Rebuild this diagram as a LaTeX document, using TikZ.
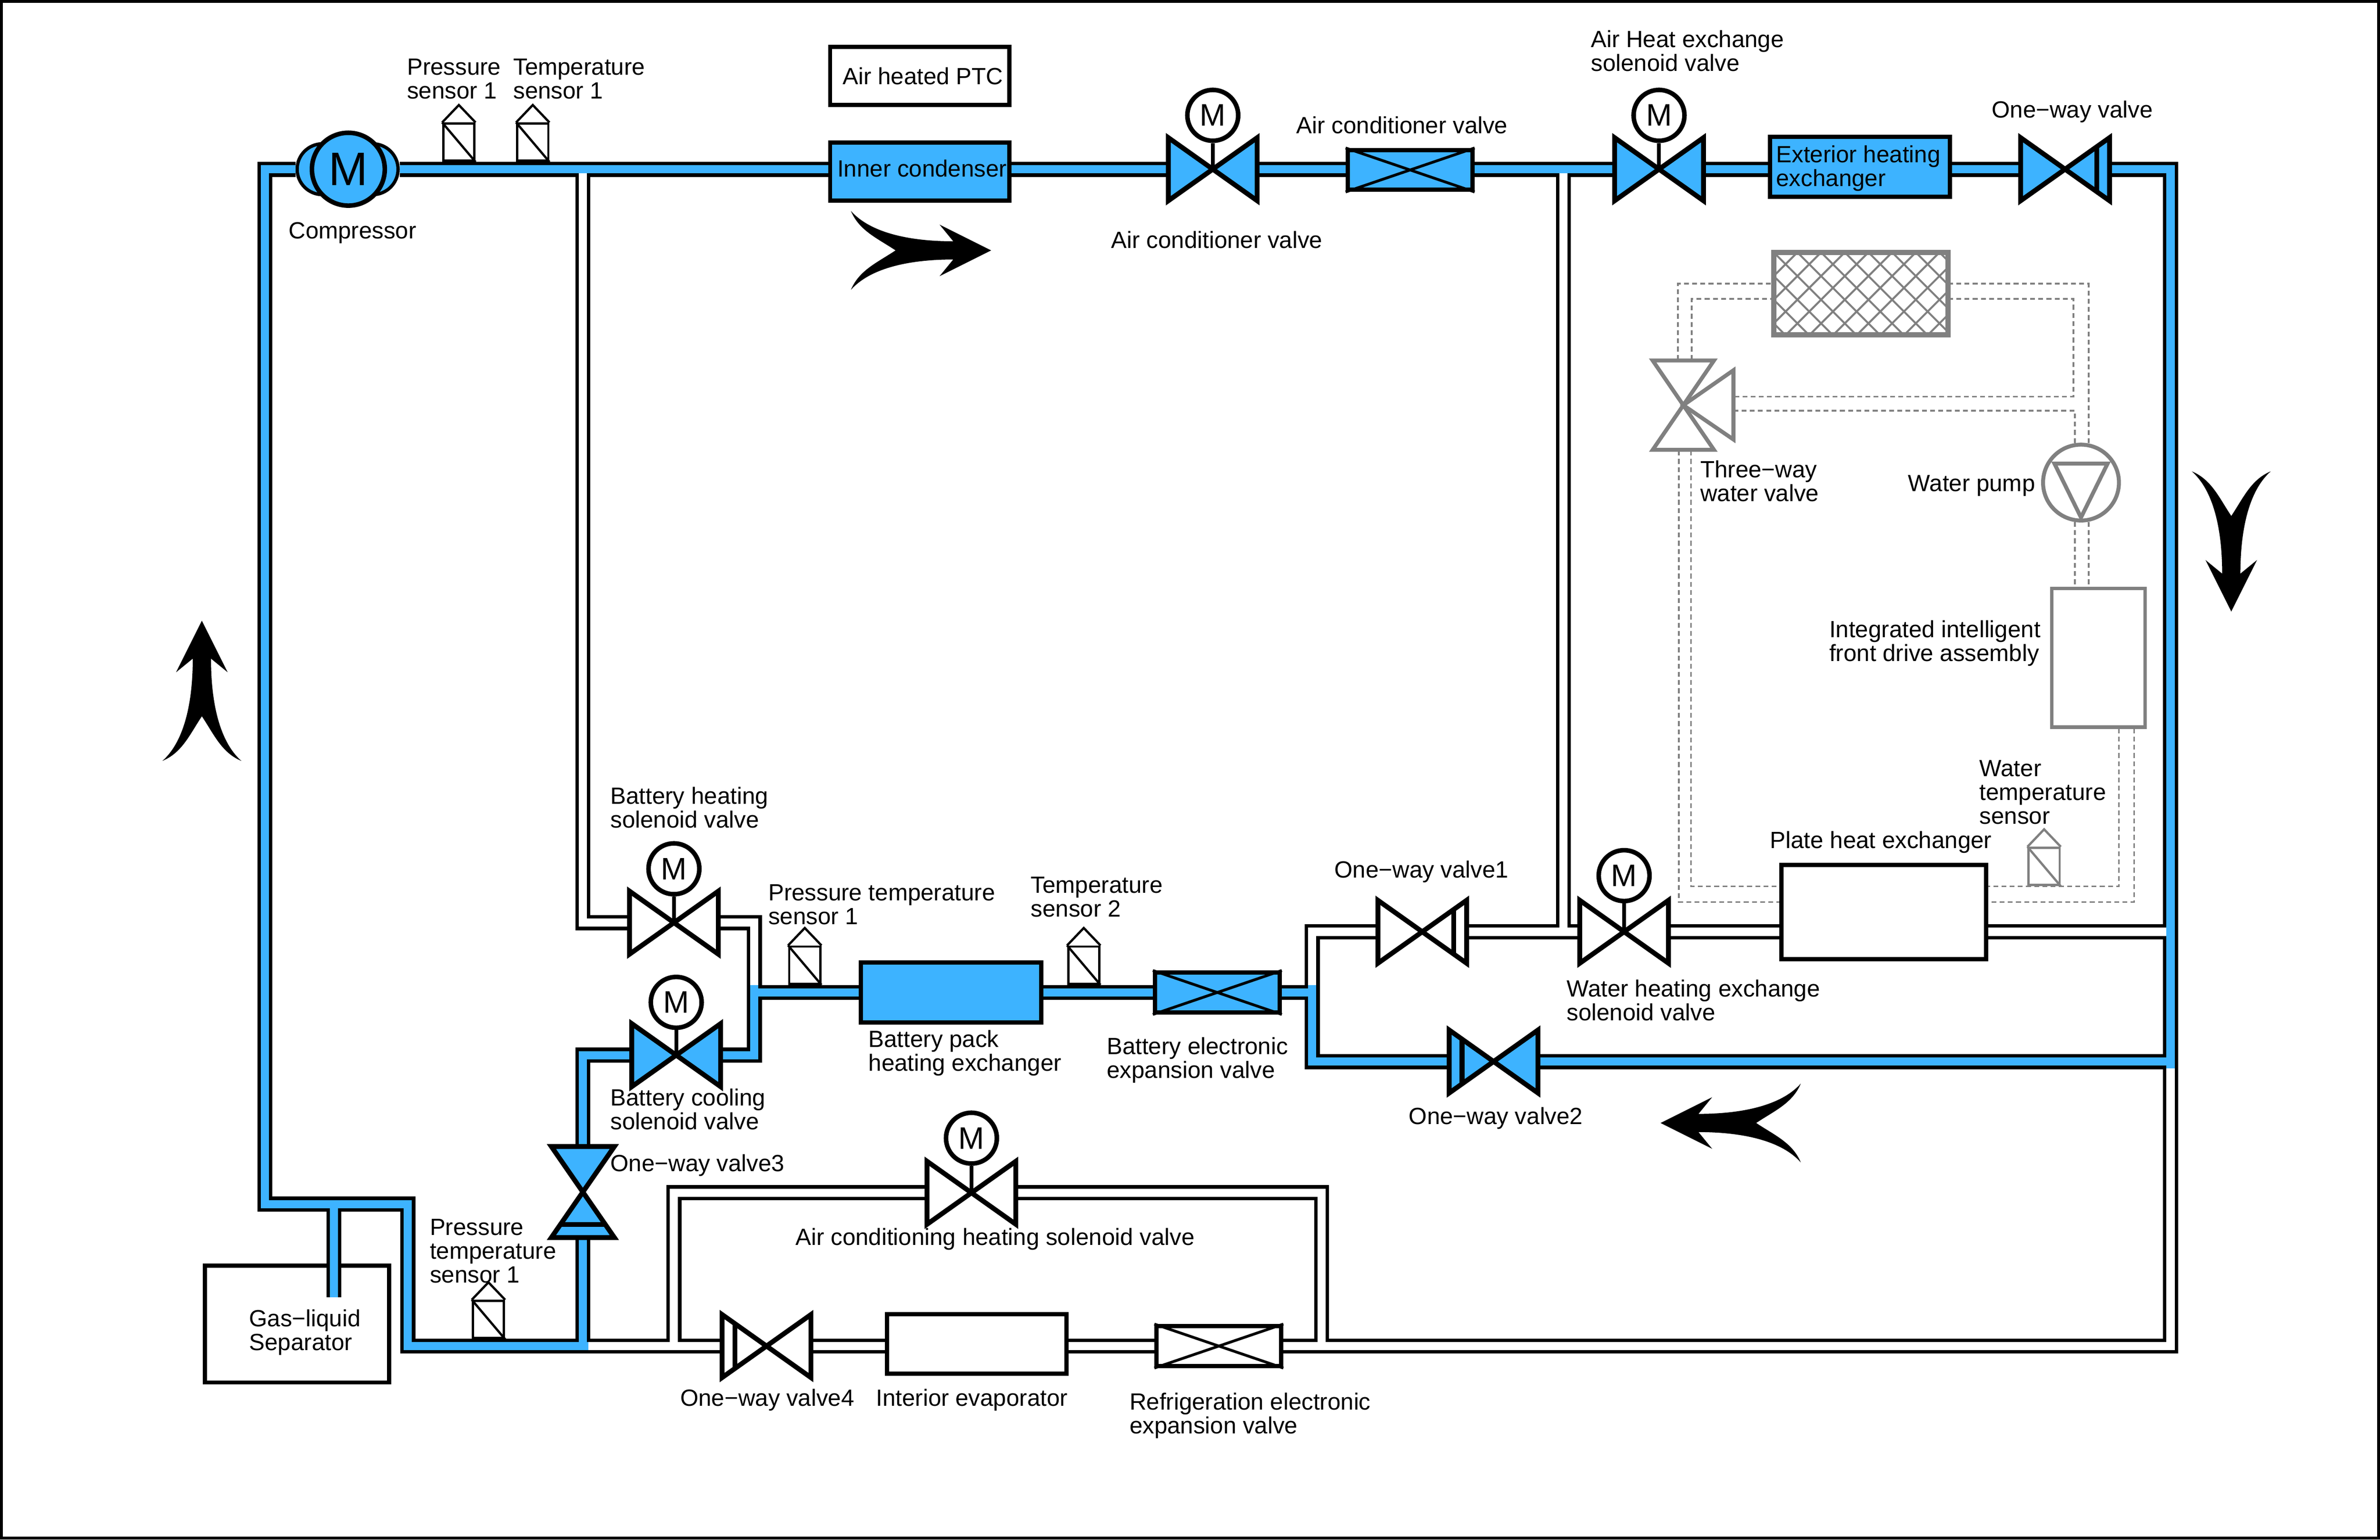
\documentclass[tikz,border=0pt]{standalone}
\usepackage{fontspec}
\setmainfont{Liberation Sans}
\usetikzlibrary{calc}
\definecolor{pipeblue}{HTML}{3DB3FF}
\definecolor{waterloop}{HTML}{808080}
\newcommand{\flatvalve}[2]{\draw[valveline, fill=#2] (#1.north west) -- (#1.south east) -- (#1.north east) -- (#1.south west) -- cycle;}
\newcommand{\tallvalve}[2]{\draw[valveline, fill=#2] (#1.north west) -- (#1.north east) -- (#1.south west) -- (#1.south east) -- cycle;}
\newcommand{\checkbar}[3]{\draw[valveline] ($(#1.center)!0.71!(#1.#2)$) -- ($(#1.center)!0.71!(#1.#3)$);}
\newcommand{\crossbox}[1]{\draw[line width=1.8pt] (#1.north west) -- (#1.south east) (#1.south west) -- (#1.north east);}
\newcommand{\sensortop}[2]{\draw[line width=1.5pt, #2] (#1.north west) -- ($(#1.north)+(0,-11.5)$) -- (#1.north east) (#1.north west) -- (#1.south east);}
\newcommand{\whiteruns}{
    (teeA) -- (heatdown) -- (batheat.west)
    (batheat.east) -- (batjog) -- (batbranch)
    (teeB) -- (teeBlow)
    (oneway1.east) -- (waterheat.west)
    (oneway1.west) -- (leftup) -- (leftblue)
    (waterheat.east) -- (plate.west |- waterheat)
    (plate.east |- waterheat) -- (plateright)
    (blueend) -- (botright) -- (refvalve.east)
    (refvalve.west) -- (evap.east |- refvalve)
    (evap.west |- oneway4) -- (oneway4.east)
    (oneway4.west) -- (lowtee)
    (loopA) -- (loopB) -- (acheat.west)
    (acheat.east) -- (loopC) -- (loopD)
}
\newcommand{\blueruns}{
    (lobeR.east) -- (condenser.west |- comp)
    (condenser.east |- comp) -- (acsole.west)
    (acsole.east) -- (acvalve.west |- comp)
    (acvalve.east |- comp) -- (airheat.west)
    (airheat.east) -- (exterior.west |- comp)
    (exterior.east |- comp) -- (oneway.west)
    (oneway.east) -- (topright) -- (blueend)
    (midright) -- (oneway2.east)
    (oneway2.west) -- (leftlow) -- (leftblue)
    (leftmid) -- (batvalve.east)
    (batvalve.west) -- (batpack.east)
    (batpack.west) -- (batmid)
    (batblue) -- (batcool) -- (batvalveB.east)
    (batvalveB.west) -- (coolleft) -- (oneway3.north)
    (oneway3.south) -- (lowtee) -- (jogB) -- (jogA) -- (sepcorner) -- (topleft) -- (lobeL.west)
    (lowtee) -- (lowstop)
    (septee) -- (sepend)
}
\tikzset{
    valveline/.style={line width=3.2pt, line join=miter},
    pipeedge/.style={line width=10pt, black, line join=miter},
    pipewhite/.style={line width=5.4pt, white, line join=miter},
    pipefill/.style={line width=5.4pt, pipeblue, line join=miter},
    waterline/.style={waterloop, line width=1.1pt, dash pattern=on 3.2pt off 2.2pt},
    lbl/.style={font=\fontsize{15.45}{15.7}\selectfont, align=left, anchor=west, inner sep=0pt},
    boxpart/.style={draw, line width=2.8pt, rectangle, inner sep=0pt},
    valvewide/.style={rectangle, inner sep=0pt, outer sep=0pt, minimum width=58.5pt, minimum height=41.5pt},
    valvetall/.style={rectangle, inner sep=0pt, outer sep=0pt, minimum width=41.5pt, minimum height=60pt},
    motor/.style={draw, circle, fill=white, line width=3pt, inner sep=0pt, minimum size=33.5pt, font=\fontsize{20.5}{20.5}\selectfont},
    sensorbox/.style={draw, rectangle, line width=1.5pt, fill=white, inner sep=0pt, minimum width=20.5pt, minimum height=24.5pt},
    pics/swoosh/.style={code={
        \fill[black] (0,0) -- (34,-17) -- (25,-6) .. controls (55,-6) and (80,-12) .. (92.4,-26)
            .. controls (87,-13) and (75,-8) .. (63,0) .. controls (75,8) and (87,13) .. (92.4,26)
            .. controls (80,12) and (55,6) .. (25,6) -- (34,17) -- cycle;
    }},
}
\begin{document}
\begin{tikzpicture}[x=1pt, y=-1pt]
    \useasboundingbox (0,0) rectangle (1568,1014.6);
    \draw[line width=2pt] (1,1) rectangle (1567,1013.6);

    \foreach \n/\x/\y in {topleft/174.5/111.5, teeA/384/111.5, teeB/1030/111.5, topright/1430/111.5,
        heatdown/384/608, batjog/497/608, batbranch/497/652, batblue/497/649, batmid/497/654, batcool/497/695.3,
        coolleft/384/695.3, teeBlow/1030/614, leftup/864.5/614, leftblue/864.5/649, leftmid/864.5/654, leftlow/864.5/699.5,
        plateright/1428/614, midright/1430/699.5, blueend/1430/704, botright/1430/887,
        loopA/444/887, loopB/444/786, loopC/870.7/786, loopD/870.7/887, lowtee/384/887, lowstop/387.5/887,
        jogB/268.7/887, jogA/268.7/793.5, sepcorner/174.5/793.5, septee/220/793.5, sepend/220/855}
        \coordinate (\n) at (\x,\y);

    \node[boxpart, fill=white, minimum width=121.5pt, minimum height=77pt] (separator) at (195.7,872.5) {};
    \node[boxpart, minimum width=118.2pt, minimum height=38.2pt] (ptc) at (606,50) {};
    \node[boxpart, fill=pipeblue, minimum width=118.2pt, minimum height=38.2pt] (condenser) at (606,113) {};
    \node[boxpart, fill=pipeblue, minimum width=82.2pt, minimum height=26.2pt] (acvalve) at (929,112) {};
    \node[boxpart, fill=pipeblue, minimum width=118.5pt, minimum height=39.5pt] (exterior) at (1225.5,110) {};
    \node[boxpart, fill=pipeblue, minimum width=119pt, minimum height=39.5pt] (batpack) at (626.5,654) {};
    \node[boxpart, fill=pipeblue, minimum width=82.2pt, minimum height=26.2pt] (batvalve) at (802,654) {};
    \node[boxpart, minimum width=118.2pt, minimum height=39.2pt] (evap) at (643.5,885.5) {};
    \node[boxpart, fill=white, minimum width=82.2pt, minimum height=26.2pt] (refvalve) at (803,887) {};
    \node[boxpart, minimum width=135pt, minimum height=62pt] (plate) at (1241,601) {};

    \node[valvewide] (acsole) at (799,111.5) {};
    \node[valvewide] (airheat) at (1093,111.5) {};
    \node[valvewide] (oneway) at (1360.5,111.5) {};
    \node[valvewide] (oneway1) at (937,614) {};
    \node[valvewide] (waterheat) at (1070,614) {};
    \node[valvewide] (oneway2) at (984,699.5) {};
    \node[valvewide] (batheat) at (444,608) {};
    \node[valvewide] (batvalveB) at (445.5,695.3) {};
    \node[valvewide] (acheat) at (640,786) {};
    \node[valvewide] (oneway4) at (505,887) {};
    \node[valvetall] (oneway3) at (384,785.5) {};

    \node[circle, draw, fill=pipeblue, line width=2.2pt, inner sep=0pt, minimum size=33.5pt] (lobeL) at (212.5,111.5) {};
    \node[circle, draw, fill=pipeblue, line width=2.2pt, inner sep=0pt, minimum size=33.5pt] (lobeR) at (245.5,111.5) {};
    \node[circle, draw, fill=pipeblue, line width=3pt, inner sep=0pt, minimum size=48pt, font=\fontsize{31}{31}\selectfont] (comp) at (229.5,111.5) {M};

    \draw[pipeedge] \whiteruns \blueruns;
    \draw[pipewhite] \whiteruns;
    \draw[pipefill] \blueruns;

    \flatvalve{acsole}{pipeblue}
    \flatvalve{airheat}{pipeblue}
    \flatvalve{oneway}{pipeblue}
    \flatvalve{oneway1}{white}
    \flatvalve{waterheat}{white}
    \flatvalve{oneway2}{pipeblue}
    \flatvalve{batheat}{white}
    \flatvalve{batvalveB}{pipeblue}
    \flatvalve{acheat}{white}
    \flatvalve{oneway4}{white}
    \tallvalve{oneway3}{pipeblue}
    \checkbar{oneway}{north east}{south east}
    \checkbar{oneway1}{north east}{south east}
    \checkbar{oneway2}{north west}{south west}
    \checkbar{oneway4}{north west}{south west}
    \checkbar{oneway3}{south west}{south east}

    \crossbox{acvalve}
    \crossbox{batvalve}
    \crossbox{refvalve}

    \node[motor] (macs) at (799,76) {M};
    \node[motor] (mair) at (1093,76) {M};
    \node[motor] (mwater) at (1070,577) {M};
    \node[motor] (mheat) at (444,572.5) {M};
    \node[motor] (mcool) at (445.5,660.5) {M};
    \node[motor] (mac) at (640,750) {M};
    \draw[line width=2.5pt] (macs) -- (acsole.center);
    \draw[line width=2.5pt] (mair) -- (airheat.center);
    \draw[line width=2.5pt] (mwater) -- (waterheat.center);
    \draw[line width=2.5pt] (mheat) -- (batheat.center);
    \draw[line width=2.5pt] (mcool) -- (batvalveB.center);
    \draw[line width=2.5pt] (mac) -- (acheat.center);

    \node[sensorbox] (press1) at (302.3,93.7) {};
    \node[sensorbox] (temp1) at (351,93.7) {};
    \node[sensorbox] (presstemp1) at (530.2,636) {};
    \node[sensorbox] (temp2) at (714,636) {};
    \node[sensorbox] (presstemp2) at (321.8,869.5) {};
    \node[sensorbox, draw=waterloop] (watertemp) at (1346.7,571) {};
    \foreach \s in {press1, temp1, presstemp1, temp2, presstemp2} {
        \sensortop{\s}{black}
    }
    \sensortop{watertemp}{waterloop}

    \node[rectangle, inner sep=0pt, minimum width=114.5pt, minimum height=54pt] (radiator) at (1226,193.5) {};
    \foreach \n/\x/\y in {wa/1105.5/237, wb/1105.5/186.9, wc/1114.5/237, wd/1114.5/197,
        we/1376/186.9, wf/1376/292, wg/1366/197, wh/1366/261.4, wi/1142/261.4, wj/1142/270.7, wk/1367/270.7, wl/1367/292,
        wm/1367/344, wn/1367/387, wo/1376/344, wp/1376/387,
        wq/1396/480, wr/1396/584, ws/1406/480, wt/1406/594.4,
        wu/1114/297, wv/1114/584, ww/1106/297, wx/1106/594.4, tw1/1142/244, tw2/1142/289.6}
        \coordinate (\n) at (\x,\y);

    \draw[waterline] (wa) -- (wb) -- (wb -| radiator.west) (wc) -- (wd) -- (wd -| radiator.west);
    \draw[waterline] (wb -| radiator.east) -- (we) -- (wf) (wd -| radiator.east) -- (wg) -- (wh) -- (wi) (wj) -- (wk) -- (wl);
    \draw[waterline] (wm) -- (wn) (wo) -- (wp);
    \draw[waterline] (wq) -- (wr) -- (wr -| plate.east) (ws) -- (wt) -- (wt -| plate.east);
    \draw[waterline] (wu) -- (wv) -- (wv -| plate.west) (ww) -- (wx) -- (wx -| plate.west);

    \begin{scope}
        \clip (radiator.south west) rectangle (radiator.north east);
        \foreach \k in {-4,...,12} {
            \draw[waterloop, line width=1.3pt] ($(radiator.north west)+(\k*15.6,0)$) -- ++(60,60);
            \draw[waterloop, line width=1.3pt] ($(radiator.north west)+(\k*15.6,0)$) -- ++(-60,60);
        }
    \end{scope}
    \draw[waterloop, line width=3.4pt] (radiator.north west) rectangle (radiator.south east);

    \node[rectangle, inner sep=0pt, minimum width=40pt, minimum height=58.5pt] (threeway) at (1109,267) {};
    \draw[waterloop, line width=2.6pt] (threeway.north west) -- (threeway.north east) -- (threeway.south west) -- (threeway.south east) -- cycle;
    \draw[waterloop, line width=2.6pt] (threeway.center) -- (tw1) -- (tw2) -- cycle;

    \node[circle, draw=waterloop, line width=2.6pt, inner sep=0pt, minimum size=50pt] (pump) at (1371,318) {};
    \draw[waterloop, line width=2.6pt] ($(pump)+(-17.5,-12.5)$) -- ($(pump)+(17.5,-12.5)$) -- ($(pump)+(0,23)$) -- cycle;
    \node[draw=waterloop, rectangle, line width=2.4pt, inner sep=0pt, minimum width=61.5pt, minimum height=91.5pt] (assembly) at (1382.5,433.5) {};

    \pic (flowtop) at (653,165) [rotate=180] {swoosh};
    \pic (flowright) at (1470,403) [rotate=90] {swoosh};
    \pic (flowlow) at (1094,740) {swoosh};
    \pic (flowleft) at (133,409) [rotate=-90] {swoosh};

    \node[lbl, anchor=center] (tptc) at (608,50) {Air heated PTC};
    \node[lbl, anchor=center] (tcond) at (607.5,111) {Inner condenser};
    \node[lbl] (tpress1) at (268,52) {Pressure\\sensor 1};
    \node[lbl] (ttemp1) at (338,52) {Temperature\\sensor 1};
    \node[lbl] (tcomp) at (190,153.5) {Compressor};
    \node[lbl] (tacv) at (854,82.5) {Air conditioner valve};
    \node[lbl] (tacs) at (732,158) {Air conditioner valve};
    \node[lbl] (tairh) at (1048,33.5) {Air Heat exchange\\solenoid valve};
    \node[lbl] (text) at (1170,111) {Exterior heating\\exchanger};
    \node[lbl] (tone) at (1312,73.5) {One−way valve};
    \node[lbl] (tthree) at (1120,317) {Three−way\\water valve};
    \node[lbl] (tpump) at (1257,320) {Water pump};
    \node[lbl] (tassy) at (1205,424) {Integrated intelligent\\front drive assembly};
    \node[lbl] (twts) at (1304,522) {Water\\temperature\\sensor};
    \node[lbl] (tplate) at (1166,555) {Plate heat exchanger};
    \node[lbl] (tone1) at (879,574.5) {One−way valve1};
    \node[lbl] (twater) at (1032,659) {Water heating exchange\\solenoid valve};
    \node[lbl] (tone2) at (928,737) {One−way valve2};
    \node[lbl] (tbatheat) at (402,532) {Battery heating\\solenoid valve};
    \node[lbl] (tpts) at (506,596) {Pressure temperature\\sensor 1};
    \node[lbl] (ttemp2) at (679,591) {Temperature\\sensor 2};
    \node[lbl] (tbatpack) at (572,694) {Battery pack\\heating exchanger};
    \node[lbl] (tbatexp) at (729,698.5) {Battery electronic\\expansion valve};
    \node[lbl] (tbatcool) at (402,731) {Battery cooling\\solenoid valve};
    \node[lbl] (tone3) at (402,768) {One−way valve3};
    \node[lbl] (tacheat) at (524,816.5) {Air conditioning heating solenoid valve};
    \node[lbl] (tpts2) at (283,824.5) {Pressure\\temperature\\sensor 1};
    \node[lbl] (tsep) at (164,878) {Gas−liquid\\Separator};
    \node[lbl] (tone4) at (448,922.5) {One−way valve4};
    \node[lbl] (tevap) at (577,922.5) {Interior evaporator};
    \node[lbl] (trefr) at (744,933) {Refrigeration electronic\\expansion valve};
\end{tikzpicture}
\end{document}
